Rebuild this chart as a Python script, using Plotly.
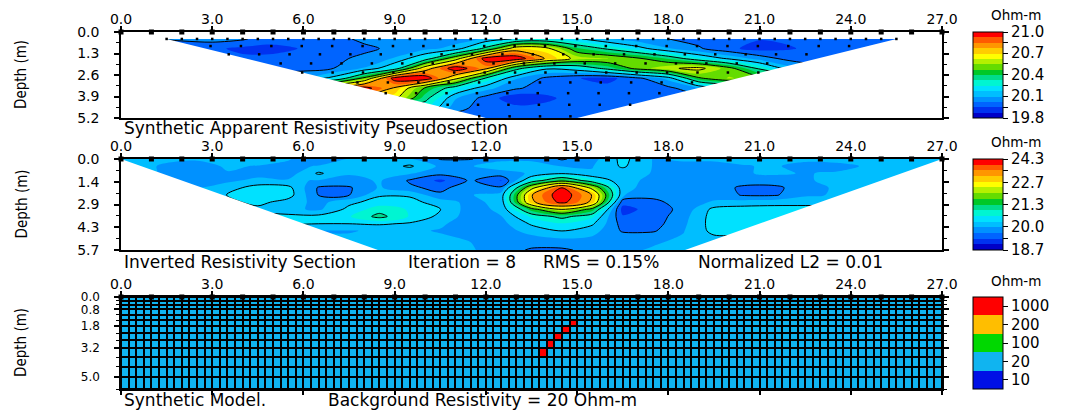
import numpy as np
import plotly.graph_objects as go

# ------------------------------------------------------------------ data
electrodes = list(range(28))                       # electrode positions (m)
x_ticks = [0, 3, 6, 9, 12, 15, 18, 21, 24, 27]

# --- panel 1 : apparent resistivity pseudosection (Ohm-m)
pseudo_x = list(range(28))
pseudo_depth = [0.42, 1.0, 1.6, 2.2, 2.8, 3.4, 4.0, 4.6, 5.2]
pseudo_rho = [
    [20.02, 20.02, 20.03, 20.05, 20.03, 19.97, 19.96, 19.99, 20.04, 20.05, 20.04, 20.06, 20.10, 20.18, 20.22, 20.18, 20.10, 20.05, 20.02, 19.99, 19.97, 19.95, 19.96, 19.99, 20.00, 20.00, 20.00, 20.00],
    [19.98, 19.98, 19.98, 19.96, 19.93, 19.93, 19.95, 19.97, 20.00, 20.04, 20.07, 20.12, 20.35, 20.70, 20.65, 20.40, 20.30, 20.20, 20.10, 20.03, 19.96, 19.92, 19.94, 19.97, 19.98, 19.98, 19.98, 19.98],
    [19.97, 19.97, 19.97, 19.97, 19.96, 19.96, 19.97, 20.00, 20.04, 20.10, 20.25, 20.55, 20.98, 21.00, 20.75, 20.58, 20.55, 20.48, 20.38, 20.25, 20.15, 20.06, 19.99, 19.97, 19.97, 19.97, 19.97, 19.97],
    [19.98, 19.98, 19.98, 19.98, 19.98, 19.98, 19.99, 20.02, 20.10, 20.25, 20.70, 21.00, 20.80, 20.35, 20.18, 20.22, 20.35, 20.50, 20.60, 20.65, 20.50, 20.30, 20.12, 20.05, 20.05, 20.05, 20.05, 20.05],
    [20.10, 20.10, 20.10, 20.10, 20.10, 20.10, 20.10, 20.20, 20.50, 20.98, 21.00, 20.65, 20.30, 20.10, 20.00, 19.95, 19.92, 20.00, 20.12, 20.45, 20.55, 20.50, 20.45, 20.45, 20.45, 20.45, 20.45, 20.45],
    [20.80, 20.80, 20.80, 20.80, 20.80, 20.80, 20.80, 20.85, 20.98, 20.75, 20.45, 20.25, 20.12, 20.03, 19.98, 19.98, 19.97, 19.98, 20.00, 20.08, 20.15, 20.15, 20.15, 20.15, 20.15, 20.15, 20.15, 20.15],
    [20.70, 20.70, 20.70, 20.70, 20.70, 20.70, 20.70, 20.70, 20.70, 20.65, 20.35, 20.10, 19.99, 19.89, 19.93, 19.98, 19.98, 19.98, 19.99, 19.99, 19.99, 19.99, 19.99, 19.99, 19.99, 19.99, 19.99, 19.99],
    [20.25, 20.25, 20.25, 20.25, 20.25, 20.25, 20.25, 20.25, 20.25, 20.25, 20.25, 20.05, 19.98, 19.97, 19.97, 19.98, 19.98, 19.98, 19.98, 19.98, 19.98, 19.98, 19.98, 19.98, 19.98, 19.98, 19.98, 19.98],
    [19.98, 19.98, 19.98, 19.98, 19.98, 19.98, 19.98, 19.98, 19.98, 19.98, 19.98, 19.98, 19.98, 19.97, 19.98, 19.98, 19.98, 19.98, 19.98, 19.98, 19.98, 19.98, 19.98, 19.98, 19.98, 19.98, 19.98, 19.98],
]
pseudo_labels = [19.8, 20.1, 20.4, 20.7, 21.0]
pseudo_outline = [(1.5, 0.42), (25.5, 0.42), (15.0, 5.2), (12.0, 5.2)]
pseudo_datum_levels = [0.42, 0.85, 1.35, 1.9, 2.45, 3.05, 3.7, 4.4, 5.1]

# --- panel 2 : inverted resistivity section (Ohm-m)
inv_x = [0, 0.5, 1.5, 2.5, 3.5, 4.5, 5.5, 6.5, 7.5, 8.5, 9.5, 10.5, 11.5, 12.5, 13.5,
         14.5, 15.5, 16.5, 17.5, 18.5, 19.5, 20.5, 21.5, 22.5, 23.5, 24.5, 25.5, 26.5, 27]
inv_depth = [0, 0.45, 0.9, 1.35, 1.8, 2.25, 2.7, 3.15, 3.6, 4.05, 4.5, 5.0, 5.7]
inv_rho = [
    [20.10, 20.10, 20.05, 20.00, 20.05, 20.10, 20.00, 19.65, 20.00, 20.10, 20.00, 19.62, 19.62, 19.90, 19.90, 19.60, 19.85, 20.40, 19.95, 20.00, 20.00, 20.05, 20.00, 20.05, 20.10, 20.10, 20.10, 20.10, 20.10],
    [20.10, 20.10, 19.90, 19.85, 20.00, 19.95, 19.85, 20.00, 20.05, 20.10, 20.35, 19.90, 19.95, 20.10, 20.10, 19.95, 19.95, 20.35, 19.95, 19.90, 19.90, 19.95, 20.00, 19.85, 19.85, 20.00, 20.05, 20.10, 20.10],
    [20.00, 20.00, 19.95, 19.85, 19.95, 19.85, 19.80, 20.35, 20.00, 20.05, 20.00, 19.75, 19.85, 19.85, 20.00, 20.25, 20.00, 20.10, 19.95, 19.85, 19.85, 19.95, 20.00, 19.95, 20.00, 20.05, 20.10, 20.10, 20.10],
    [19.95, 19.95, 19.95, 19.90, 19.90, 20.05, 20.00, 19.95, 19.85, 20.00, 19.60, 19.25, 19.70, 19.30, 20.70, 21.50, 20.70, 20.05, 19.90, 19.80, 19.90, 19.85, 19.85, 19.95, 20.00, 20.10, 20.10, 20.10, 20.10],
    [19.95, 19.95, 19.95, 19.95, 20.15, 20.45, 20.40, 19.60, 19.60, 20.00, 19.70, 19.55, 19.85, 19.70, 22.20, 23.90, 22.20, 20.05, 19.85, 19.80, 19.85, 19.55, 19.55, 19.85, 20.00, 20.10, 20.10, 20.10, 20.10],
    [20.10, 20.10, 20.10, 20.15, 20.30, 20.60, 20.45, 19.62, 19.62, 20.25, 20.25, 19.70, 19.95, 20.10, 23.10, 24.30, 23.10, 20.00, 19.75, 19.85, 19.85, 19.60, 19.60, 19.90, 20.00, 20.10, 20.10, 20.10, 20.10],
    [20.20, 20.20, 20.20, 20.20, 20.20, 20.40, 20.15, 19.85, 20.20, 20.45, 20.40, 20.15, 19.85, 20.10, 23.00, 24.10, 23.00, 19.45, 19.55, 19.80, 20.00, 20.10, 20.15, 20.20, 20.20, 20.20, 20.20, 20.20, 20.20],
    [20.20, 20.20, 20.20, 20.20, 20.20, 20.20, 20.05, 19.90, 20.40, 20.80, 20.60, 20.30, 19.80, 20.05, 21.50, 22.40, 21.50, 19.20, 19.45, 19.75, 20.40, 20.45, 20.45, 20.40, 20.40, 20.40, 20.40, 20.40, 20.40],
    [20.40, 20.40, 20.40, 20.40, 20.40, 20.40, 20.40, 20.40, 20.60, 21.10, 20.60, 20.20, 19.80, 19.95, 20.70, 21.10, 20.70, 19.35, 19.45, 19.85, 20.45, 20.50, 20.50, 20.50, 20.50, 20.50, 20.50, 20.50, 20.50],
    [20.35, 20.35, 20.35, 20.35, 20.35, 20.35, 20.35, 20.30, 20.30, 20.35, 20.25, 20.00, 19.85, 19.85, 20.35, 20.60, 20.35, 19.50, 19.50, 19.90, 20.45, 20.50, 20.50, 20.50, 20.50, 20.50, 20.50, 20.50, 20.50],
    [19.95, 19.95, 19.95, 19.95, 19.95, 19.95, 19.95, 19.95, 19.95, 20.00, 20.00, 19.95, 19.90, 19.80, 20.10, 20.30, 20.10, 19.60, 19.60, 19.95, 20.40, 20.40, 20.40, 20.40, 20.40, 20.40, 20.40, 20.40, 20.40],
    [20.00, 20.00, 20.00, 20.00, 20.00, 20.00, 20.00, 20.00, 20.00, 20.00, 20.05, 20.00, 19.95, 19.85, 19.85, 19.95, 19.90, 19.85, 19.90, 20.00, 20.20, 20.20, 20.20, 20.20, 20.20, 20.20, 20.20, 20.20, 20.20],
    [20.00, 20.00, 20.00, 20.00, 20.00, 20.00, 20.00, 20.00, 20.00, 20.00, 20.05, 20.05, 20.00, 19.80, 19.60, 19.58, 19.75, 19.90, 20.00, 20.05, 20.05, 20.05, 20.05, 20.05, 20.05, 20.05, 20.05, 20.05, 20.05],
]
inv_labels = [18.7, 20.0, 21.3, 22.7, 24.3]
inv_outline = [(0.0, 0.0), (27.0, 0.0), (18.55, 5.7), (8.45, 5.7)]

# --- panel 3 : synthetic model
model_layers = [0, 0.23, 0.48, 0.78, 1.12, 1.45, 1.82, 2.25, 2.7, 3.2, 3.75, 4.35, 5.0, 5.75]
model_layer_labels = {0: "0.0", 3: "0.8", 6: "1.8", 9: "3.2", 12: "5.0"}
model_cell_width = 0.25
model_background = 20
model_blocks = [(13.75, 9), (14.0, 8), (14.25, 7), (14.5, 6), (14.75, 5)]   # (left edge m, layer)
model_block_rho = 1000
model_classes = [10, 20, 100, 200, 1000]
model_class_colors = ["#0010E6", "#10B4F0", "#00D800", "#FFBE00", "#FF0000"]

# ------------------------------------------------------------------ styling
palette = ["#0000C8", "#0032F0", "#0064FF", "#0091FF", "#00BEFF", "#00E1FF",
           "#00F5D2", "#00DC8C", "#00C828", "#64DC00", "#B4F000", "#FFFF00",
           "#FFCD00", "#FF9600", "#FF5A00", "#FF0000"]
NB = len(palette)
step_scale = []
for i, c in enumerate(palette):
    step_scale += [[i / NB, c], [(i + 1) / NB, c]]

FONT = "DejaVu Sans"
NARROW = "Liberation Sans Narrow, DejaVu Sans Condensed, Arial Narrow, sans-serif"
# the page body adds an 8 px margin, so the figure is placed 8 px in from the window corner
OFF = 8
W, H = 1065 - OFF, 410 - OFF
XL, XR = 121, 942          # plot left/right in window pixels
CB_X, CB_T = 973, 30
panels = {  # top, bottom (window px)
    1: (32, 118),
    2: (159, 250),
    3: (297, 389),
}


def px_x(p):
    return (p - OFF) / W


def px_y(p):
    return 1 - (p - OFF) / H


fig = go.Figure()


def contour_panel(xs, ds, rho, labels, ax, top, bot):
    lz = np.log10(np.array(rho))
    lo, hi = np.log10(labels[0]), np.log10(labels[-1])
    st = (hi - lo) / NB
    xa = "x" if ax == 1 else f"x{ax}"
    ya = "y" if ax == 1 else f"y{ax}"
    tv = list(np.log10(labels))
    mids = [(tv[i] + tv[i + 1]) / 2 for i in range(len(tv) - 1)]
    fig.add_trace(go.Contour(
        x=xs, y=ds, z=lz, xaxis=xa, yaxis=ya,
        colorscale=step_scale, zmin=lo, zmax=hi, zauto=False,
        contours=dict(start=lo, end=hi + 1e-9, size=st, coloring="fill", showlines=False),
        line=dict(width=0, smoothing=0.9),
        hoverinfo="skip",
        colorbar=dict(
            x=px_x(CB_X), xanchor="left", y=px_y(top), yanchor="top",
            lenmode="pixels", len=bot - top, thickness=CB_T, thicknessmode="pixels",
            outlinewidth=1, outlinecolor="black", xpad=0, ypad=0,
            tickmode="array", tickvals=tv + mids,
            ticktext=[f"{v:.1f}" for v in labels] + [""] * len(mids),
            ticks="outside", ticklen=5, tickcolor="black",
            tickfont=dict(family=FONT, size=15, color="black"),
        ),
    ))
    fig.add_trace(go.Contour(
        x=xs, y=ds, z=lz, xaxis=xa, yaxis=ya, showscale=False,
        contours=dict(start=lo + st, end=hi - st + 1e-9, size=2 * st, coloring="none"),
        line=dict(color="black", width=1, smoothing=0.9),
        hoverinfo="skip",
    ))


def mask(outline, ax):
    xa = "x" if ax == 1 else f"x{ax}"
    ya = "y" if ax == 1 else f"y{ax}"
    ox = [-1, 28, 28, -1, -1]
    oy = [-1, -1, 8, 8, -1]
    pts = [outline[0]] + list(reversed(outline[1:])) + [outline[0]]
    xs = ox + [p[0] for p in pts] + [-1]
    ys = oy + [p[1] for p in pts] + [-1]
    fig.add_trace(go.Scatter(x=xs, y=ys, xaxis=xa, yaxis=ya, mode="lines",
                             fill="toself", fillcolor="white", line=dict(width=0),
                             hoverinfo="skip", showlegend=False))


def electrode_marks(ax):
    xa = "x" if ax == 1 else f"x{ax}"
    ya = "y" if ax == 1 else f"y{ax}"
    fig.add_trace(go.Scatter(x=electrodes, y=[0] * len(electrodes), xaxis=xa, yaxis=ya,
                             mode="markers", cliponaxis=False, hoverinfo="skip",
                             marker=dict(symbol="square", size=5, color="black"),
                             showlegend=False))


# panel 1
contour_panel(pseudo_x, pseudo_depth, pseudo_rho, pseudo_labels, 1, *panels[1])
mask(pseudo_outline, 1)
# datum points of the pseudosection
dx, dy = [], []
(lx0, ly0), (rx0, _), (rx1, ly1), (lx1, _) = pseudo_outline
for k, d in enumerate(pseudo_datum_levels):
    f = (d - ly0) / (ly1 - ly0)
    xl = lx0 + f * (lx1 - lx0)
    xr = rx0 + f * (rx1 - rx0)
    stp = 0.5 if k == 0 else 1.0
    xx = xl + (0.5 if k % 2 else 0.0)
    while xx <= xr + 1e-6:
        dx.append(xx)
        dy.append(d)
        xx += stp
fig.add_trace(go.Scatter(x=dx, y=dy, mode="markers", hoverinfo="skip", showlegend=False,
                         marker=dict(symbol="square", size=2.5, color="black")))
electrode_marks(1)

# panel 2
contour_panel(inv_x, inv_depth, inv_rho, inv_labels, 2, *panels[2])
mask(inv_outline, 2)
electrode_marks(2)

# panel 3
ncols = int(round(27 / model_cell_width))
model_x = [i * model_cell_width for i in range(ncols + 1)]
model_rho = [[model_background] * ncols for _ in range(len(model_layers) - 1)]
for xl, layer in model_blocks:
    model_rho[layer][int(round(xl / model_cell_width))] = model_block_rho
model_idx = [[model_classes.index(v) for v in row] for row in model_rho]
nc = len(model_classes)
cls_scale = []
for i, c in enumerate(model_class_colors):
    cls_scale += [[i / nc, c], [(i + 1) / nc, c]]
t3, b3 = panels[3]
fig.add_trace(go.Heatmap(
    x=model_x, y=model_layers, z=model_idx, xaxis="x3", yaxis="y3",
    colorscale=cls_scale, zmin=-0.5, zmax=nc - 0.5, xgap=2, ygap=2, hoverinfo="skip",
    colorbar=dict(
        x=px_x(CB_X), xanchor="left", y=px_y(t3), yanchor="top",
        lenmode="pixels", len=b3 - t3, thickness=CB_T, thicknessmode="pixels",
        outlinewidth=1, outlinecolor="black", xpad=0, ypad=0,
        tickmode="array", tickvals=list(range(nc)), ticktext=[str(v) for v in model_classes],
        ticks="outside", ticklen=5, tickcolor="black",
        tickfont=dict(family=FONT, size=15, color="black"),
    ),
))
electrode_marks(3)

# ------------------------------------------------------------------ axes
for ax in (1, 2, 3):
    top, bot = panels[ax]
    xk = "xaxis" if ax == 1 else f"xaxis{ax}"
    yk = "yaxis" if ax == 1 else f"yaxis{ax}"
    yref = "y" if ax == 1 else f"y{ax}"
    xref = "x" if ax == 1 else f"x{ax}"
    fig.layout[xk] = dict(
        domain=[px_x(XL), px_x(XR)], range=[0, 27], side="top", anchor=yref,
        tickmode="array", tickvals=x_ticks, ticktext=[f"{v:.1f}" for v in x_ticks],
        ticks="outside", ticklen=4, tickwidth=1.5, tickcolor="black",
        showline=True, linecolor="black", linewidth=1.5,
        mirror="ticks" if ax == 3 else True, automargin=False,
        showgrid=False, zeroline=False, ticklabelstandoff=-3,
        tickfont=dict(family=FONT, size=14, color="black"),
    )
    if ax == 1:
        ymax = pseudo_depth[-1]
        tv = [0, 1.3, 2.6, 3.9, 5.2]
        tt = ["0.0", "1.3", "2.6", "3.9", "5.2"]
        minor_v = [0.65, 1.95, 3.25, 4.55]
    elif ax == 2:
        ymax = inv_depth[-1]
        tv = [0, 1.425, 2.85, 4.275, 5.7]
        tt = ["0.0", "1.4", "2.9", "4.3", "5.7"]
        minor_v = [0.7125, 2.1375, 3.5625, 4.9875]
    else:
        ymax = model_layers[-1]
        tv = [model_layers[i] for i in model_layer_labels]
        tt = list(model_layer_labels.values())
        minor_v = [v for i, v in enumerate(model_layers) if i not in model_layer_labels]
    fig.layout[yk] = dict(
        domain=[px_y(bot), px_y(top)], range=[ymax, 0], anchor=xref,
        tickmode="array", tickvals=tv, ticktext=tt,
        ticks="outside", ticklen=5, tickwidth=1.5, tickcolor="black",
        minor=dict(tickmode="array", tickvals=minor_v, ticks="outside", ticklen=3,
                   tickcolor="black", tickwidth=1),
        showline=True, linecolor="black", linewidth=1.5, mirror="ticks", automargin=False,
        showgrid=False, zeroline=False, ticklabelstandoff=12,
        tickfont=dict(family=FONT, size=12 if ax == 3 else 14, color="black"),
    )

# black background of the model mesh (shows through the cell gaps)
fig.add_shape(type="rect", xref="x3", yref="y3", x0=0, x1=27, y0=0,
              y1=model_layers[-1], fillcolor="black", line_width=0, layer="below")

# ------------------------------------------------------------------ text
ann = []
for ax in (1, 2, 3):
    top, bot = panels[ax]
    ann.append(dict(text="Depth (m)", x=px_x(21), y=px_y((top + bot) / 2), xref="paper", yref="paper",
                    textangle=-90, showarrow=False, xanchor="center", yanchor="middle",
                    font=dict(family=NARROW, size=15, color="black")))
    ann.append(dict(text="Ohm-m", x=px_x(1016), y=px_y(top - 16.5), xref="paper", yref="paper",
                    showarrow=False, xanchor="center", yanchor="middle",
                    font=dict(family=FONT, size=13.5, color="black")))

captions = [
    ("Synthetic Apparent Resistivity Pseudosection", 122, 128),
    ("Inverted Resistivity Section", 122, 262),
    ("Iteration = 8", 406, 262),
    ("RMS = 0.15%", 541, 262),
    ("Normalized L2 = 0.01", 696, 262),
    ("Synthetic Model.", 122, 400),
    ("Background Resistivity = 20 Ohm-m", 326, 400),
]
for t, x, y in captions:
    ann.append(dict(text=t, x=px_x(x), y=px_y(y), xref="paper", yref="paper", showarrow=False,
                    xanchor="left", yanchor="middle",
                    font=dict(family=FONT, size=17, color="black")))

fig.update_layout(
    width=W, height=H, margin=dict(l=0, r=0, t=0, b=0, autoexpand=False),
    autosize=False, paper_bgcolor="white", plot_bgcolor="white",
    showlegend=False, annotations=ann,
)

fig.write_html("out.html", config={"displayModeBar": False})
